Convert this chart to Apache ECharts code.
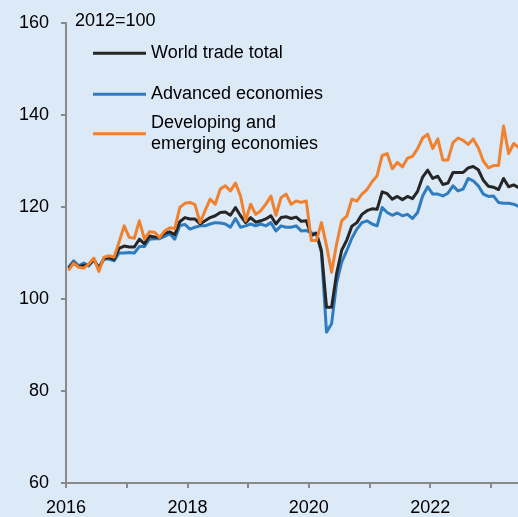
<!DOCTYPE html>
<html>
<head>
<meta charset="utf-8">
<script src="https://cdn.jsdelivr.net/npm/echarts@6/dist/echarts.min.js"></script>
<style>
  html, body { margin: 0; padding: 0; background: #dce9f7; }
  #chart { width: 518px; height: 517px; }
</style>
</head>
<body>
<div id="chart"></div>
<script>
// Monthly trade volume index, January 2016 onward (2012 = 100)
const startYear = 2016;
const seriesNames = ['World trade total', 'Advanced economies', 'Developing and emerging economies'];
const yearTicks = [2016, 2017, 2018, 2019, 2020, 2021, 2022, 2023];
const yearLabels = [2016, 2018, 2020, 2022];
const yTicks = [60, 80, 100, 120, 140, 160];
const unitNote = '2012=100';

const worldTotal = [
  106.6, 107.9, 107.0, 107.3, 107.4, 108.6, 106.6, 108.8, 109.0, 108.6, 111.0, 111.5,
  111.3, 111.3, 113.0, 112.0, 113.7, 113.5, 113.4, 114.3, 114.6, 114.0, 116.8, 117.7,
  117.4, 117.4, 116.3, 117.0, 117.7, 118.1, 118.8, 118.9, 118.2, 119.9, 118.1, 116.6,
  117.7, 116.7, 117.0, 117.4, 118.1, 116.3, 117.7, 117.9, 117.5, 117.8, 116.9, 117.0,
  113.8, 114.3, 110.5, 98.2, 98.2, 105.6, 110.6, 112.8, 115.8, 116.6, 118.4, 119.2,
  119.6, 119.5, 123.3, 122.9, 121.7, 122.3, 121.6, 122.3, 121.8, 123.4, 126.5, 128.0,
  126.2, 126.7, 124.9, 125.2, 127.5, 127.5, 127.5, 128.5, 128.8, 128.1, 125.8, 124.5,
  124.3, 123.8, 126.2, 124.4, 124.8, 124.2
];
const advanced = [
  106.9, 108.3, 107.2, 107.8, 107.2, 108.5, 106.9, 108.7, 108.7, 108.3, 110.0, 110.0,
  110.1, 110.0, 111.4, 111.4, 113.0, 113.1, 113.1, 113.6, 114.2, 113.0, 116.0, 116.2,
  115.2, 115.6, 115.9, 115.9, 116.3, 116.6, 116.5, 116.3, 115.6, 117.5, 115.6, 115.9,
  116.3, 115.9, 116.3, 115.9, 116.6, 114.8, 115.9, 115.6, 115.6, 115.9, 114.8, 114.9,
  114.3, 114.3, 110.1, 92.8, 94.6, 103.5, 108.0, 110.5, 113.2, 115.2, 116.6, 117.0,
  116.3, 115.9, 119.9, 118.8, 118.2, 118.7, 118.1, 118.4, 117.5, 118.8, 122.4, 124.4,
  122.8, 122.8, 122.4, 123.0, 124.6, 123.5, 123.9, 126.2, 125.7, 124.6, 122.8, 122.3,
  122.4, 121.0, 120.8, 120.8, 120.6, 120.1
];
const developing = [
  106.2, 107.8, 106.9, 106.7, 107.6, 108.9, 106.0, 109.1, 109.4, 109.1, 112.4, 115.9,
  113.4, 113.2, 117.0, 113.0, 114.6, 114.5, 113.4, 114.8, 115.5, 115.3, 119.9, 120.8,
  121.0, 120.5, 116.6, 119.2, 121.7, 120.6, 123.9, 124.6, 123.5, 125.2, 122.4, 117.0,
  120.6, 118.4, 119.2, 120.6, 122.4, 118.2, 122.0, 122.8, 120.6, 121.3, 121.0, 121.3,
  112.7, 112.7, 116.6, 111.6, 105.8, 112.0, 117.0, 118.0, 121.7, 121.3, 122.8, 123.8,
  125.5, 126.8, 131.2, 131.6, 128.3, 129.7, 128.7, 130.6, 131.0, 132.7, 135.0, 135.8,
  132.7, 134.8, 130.2, 130.2, 134.0, 135.0, 134.5, 133.6, 134.8, 132.9, 130.0, 128.5,
  129.0, 129.0, 137.6, 131.6, 133.8, 132.9
];

const colors = { total: '#262626', advanced: '#2f7cc1', developing: '#f0812f' };
const axisColor = '#8a8a8a';
const font = '"Liberation Sans", Arial, sans-serif';

// each monthly value sits in the middle of its month
const toPairs = arr => arr.map((v, i) => [startYear + (i + 0.5) / 12, v]);

const lineSeries = (name, data, color) => ({
  name, type: 'line', data: toPairs(data),
  symbol: 'none', smooth: false, clip: true,
  lineStyle: { color, width: 3, join: 'round' },
  itemStyle: { color },
  emphasis: { disabled: true },
  animation: false
});

const legendBase = (name, top, extraText) => ({
  data: [{ name, textStyle: extraText }],
  orient: 'vertical', left: 93, top, padding: 0,
  itemWidth: 53, itemHeight: 14,
  icon: 'path://M0,6 L53,6 L53,9 L0,9 Z',
  textStyle: { fontFamily: font, fontSize: 18, color: '#000', lineHeight: 21.5 },
  selectedMode: false
});

const chart = echarts.init(document.getElementById('chart'), null, { renderer: 'canvas' });
chart.setOption({
  backgroundColor: '#dce9f7',
  animation: false,
  grid: { left: 66, right: 0, top: 23, bottom: 33, containLabel: false },
  title: {
    text: unitNote, left: 75, top: 12, padding: 0,
    textStyle: { fontFamily: font, fontSize: 18, fontWeight: 'normal', color: '#000' }
  },
  legend: [
    legendBase(seriesNames[0], 42.5),
    legendBase(seriesNames[1], 83.5),
    Object.assign(legendBase(seriesNames[2], 101.5, { padding: [21.5, 0, 0, 0] }), {
      formatter: n => n.replace(' emerging', '\nemerging')
    })
  ],
  xAxis: {
    type: 'value', min: startYear, max: 2023.446,
    axisLine: { show: true, lineStyle: { color: axisColor, width: 2 } },
    axisTick: { show: true, length: 5, lineStyle: { color: axisColor, width: 2 }, customValues: yearTicks },
    axisLabel: {
      customValues: yearLabels, margin: 16,
      fontFamily: font, fontSize: 18, color: '#000',
      formatter: v => String(Math.round(v))
    },
    splitLine: { show: false }
  },
  yAxis: {
    type: 'value', min: yTicks[0], max: yTicks[yTicks.length - 1], interval: 20,
    axisLine: { show: true, lineStyle: { color: axisColor, width: 2 } },
    axisTick: { show: true, length: 5, lineStyle: { color: axisColor, width: 2 } },
    axisLabel: { margin: 17, fontFamily: font, fontSize: 18, color: '#000' },
    splitLine: { show: false }
  },
  series: [
    lineSeries(seriesNames[1], advanced, colors.advanced),
    lineSeries(seriesNames[0], worldTotal, colors.total),
    lineSeries(seriesNames[2], developing, colors.developing)
  ]
});
</script>
</body>
</html>
